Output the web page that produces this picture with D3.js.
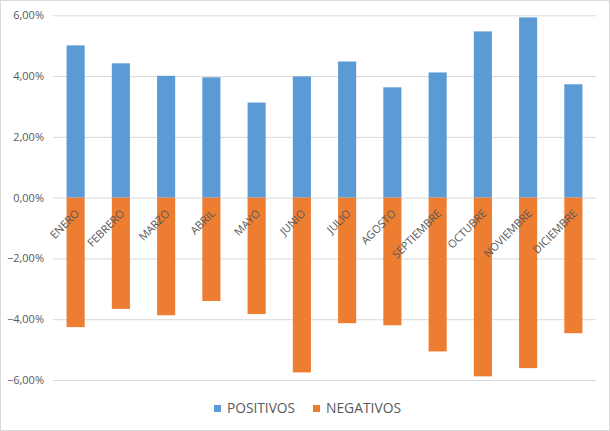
<!DOCTYPE html>
<html><head><meta charset="utf-8">
<script src="https://cdn.jsdelivr.net/npm/d3@7/dist/d3.min.js"></script>
<style>body{margin:0;background:#fff;}svg{display:block;}</style>
</head><body>
<svg id="c" width="610" height="431"></svg>
<script>
const months = ["ENERO","FEBRERO","MARZO","ABRIL","MAYO","JUNIO","JULIO","AGOSTO","SEPTIEMBRE","OCTUBRE","NOVIEMBRE","DICIEMBRE"];
const positivos = [5.01, 4.42, 4.01, 3.96, 3.13, 3.99, 4.48, 3.63, 4.12, 5.47, 5.93, 3.73];
const negativos = [-4.26, -3.66, -3.87, -3.40, -3.83, -5.75, -4.13, -4.20, -5.06, -5.88, -5.61, -4.46];
const yTicks = [6, 4, 2, 0, -2, -4, -6];
const seriesNames = ["POSITIVOS", "NEGATIVOS"];
const colors = ["#5b9bd5", "#ed7d31"];

const svg = d3.select("#c");
const font = "'Open Sans', 'Noto Sans', sans-serif";
svg.append("rect").attr("x",0.5).attr("y",0.5).attr("width",609).attr("height",430)
  .attr("fill","#fff").attr("stroke","#d9d9d9");

const x = d3.scaleBand().domain(months).range([53, 596]).paddingInner(0.6).paddingOuter(0.3);
const y = d3.scaleLinear().domain([-6, 6]).range([380, 15.3]);
const fmt = v => d3.format(".2f")(v).replace(".", ",") + "%";

const yAxis = d3.axisLeft(y).tickValues(yTicks).tickSize(-(596-53)).tickFormat(fmt).tickPadding(9);
const ga = svg.append("g").attr("transform","translate(53,0)").call(yAxis);
ga.select(".domain").remove();
ga.selectAll(".tick line").attr("stroke","#d9d9d9");
ga.selectAll(".tick text").attr("fill","#595959").style("font-family",font).style("font-size","11px");

const data = months.map((m,i)=>({m, p:positivos[i], n:negativos[i]}));
svg.append("g").selectAll("rect").data(data).join("rect")
  .attr("x", d=>x(d.m)).attr("width", x.bandwidth())
  .attr("y", d=>y(d.p)).attr("height", d=>y(0)-y(d.p)).attr("fill", colors[0]);
svg.append("g").selectAll("rect").data(data).join("rect")
  .attr("x", d=>x(d.m)).attr("width", x.bandwidth())
  .attr("y", y(0)).attr("height", d=>y(d.n)-y(0)).attr("fill", colors[1]);

svg.append("g").selectAll("text").data(months).join("text")
  .attr("transform", m=>`translate(${x(m)+x.bandwidth()/2+4.5},${y(0)+16.5}) rotate(-45)`)
  .attr("text-anchor","end")
  .attr("fill","#595959").style("font-family",font).style("font-size","11px")
  .text(m=>m);

const lg = svg.append("g");
const legX = [214, 313];
const legW = [68, 75];
seriesNames.forEach((s,i)=>{
  lg.append("rect").attr("x",legX[i]).attr("y",405).attr("width",7).attr("height",7).attr("fill",colors[i]);
  lg.append("text").attr("x",legX[i]+13).attr("y",412.5)
    .attr("textLength", legW[i]).attr("lengthAdjust","spacingAndGlyphs")
    .attr("fill","#595959").style("font-family",font).style("font-size","14px").text(s);
});
</script>
</body></html>
